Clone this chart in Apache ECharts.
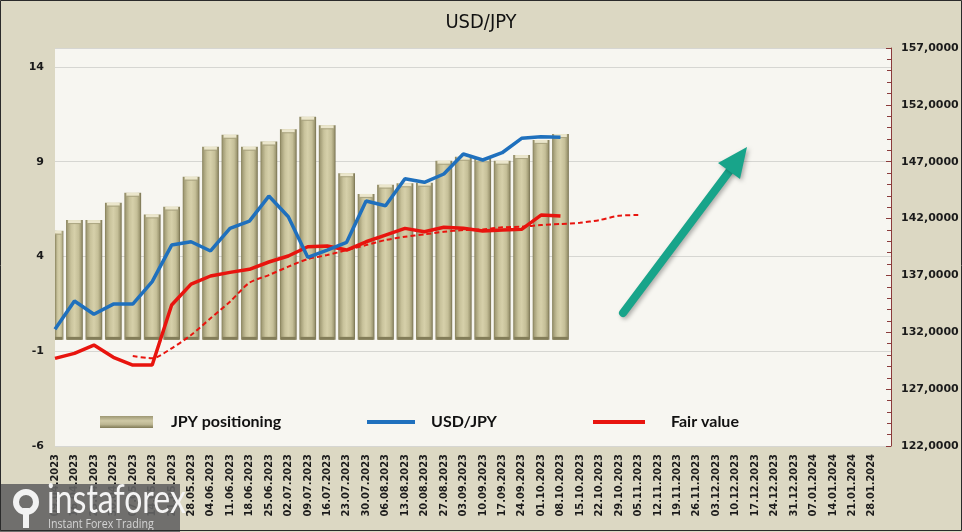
<!DOCTYPE html>
<html>
<head>
<meta charset="utf-8">
<script src="https://cdn.jsdelivr.net/npm/echarts@6/dist/echarts.min.js"></script>
<style>
html,body{margin:0;padding:0;background:#dcd8c3;}
#chart{width:962px;height:532px;}
</style>
</head>
<body>
<div id="chart"></div>
<script>
// ---- data ----
const categories = ['09.04.2023','16.04.2023','23.04.2023','30.04.2023','07.05.2023','14.05.2023','21.05.2023','28.05.2023',
  '04.06.2023','11.06.2023','18.06.2023','25.06.2023','02.07.2023','09.07.2023','16.07.2023','23.07.2023','30.07.2023',
  '06.08.2023','13.08.2023','20.08.2023','27.08.2023','03.09.2023','10.09.2023','17.09.2023','24.09.2023','01.10.2023',
  '08.10.2023','15.10.2023','22.10.2023','29.10.2023','05.11.2023','12.11.2023','19.11.2023','26.11.2023','03.12.2023',
  '10.12.2023','17.12.2023','24.12.2023','31.12.2023','07.01.2024','14.01.2024','21.01.2024','28.01.2024',''];
const jpyPositioning = [5.36,5.92,5.92,6.84,7.36,6.22,6.63,8.21,9.79,10.42,9.79,10.06,10.71,11.37,10.92,8.39,7.30,7.79,7.86,7.89,9.05,9.26,9.18,9.05,9.35,10.15,10.46];
const usdJpy = [132.26,134.75,133.58,134.48,134.48,136.45,139.67,139.96,139.15,141.14,141.78,143.98,142.16,138.59,139.23,139.91,143.54,143.13,145.50,145.19,145.92,147.68,147.15,147.79,149.06,149.20,149.15];
const fairValue = [129.71,130.15,130.88,129.80,129.12,129.12,134.40,136.24,136.95,137.27,137.54,138.18,138.71,139.52,139.59,139.23,139.96,140.55,141.14,140.84,141.23,141.14,140.91,140.99,141.05,142.31,142.22];
const fairValueTrend = [null,null,null,null,129.91,129.71,130.59,131.76,133.23,134.69,136.36,137.03,137.77,138.44,138.79,139.23,139.67,140.11,140.40,140.61,140.84,140.99,141.05,141.23,141.28,141.43,141.52,141.63,141.87,142.25,142.31];
const leftTicks = {min:-6, max:15, interval:5};
const rightTicks = {min:122, max:157, interval:5};
const BAR_BASE = -0.4;

const barGrad = new echarts.graphic.LinearGradient(0,0,1,0,[
  {offset:0,color:'#837d57'},{offset:0.1,color:'#a6a07a'},{offset:0.3,color:'#c9c39c'},
  {offset:0.5,color:'#d6d0aa'},{offset:0.75,color:'#c5bf98'},{offset:0.9,color:'#a29c76'},{offset:1,color:'#746e4d'}]);
const legendGrad = new echarts.graphic.LinearGradient(0,0,0,1,[
  {offset:0,color:'#9d9773'},{offset:0.4,color:'#cfc9a6'},{offset:0.7,color:'#bcb692'},{offset:1,color:'#7f7955'}]);

const chart = echarts.init(document.getElementById('chart'));
const axisFont = {fontFamily:'DejaVu Sans', fontWeight:'bold', fontSize:11, color:'#1a1a1a'};
const legendFont = {fontFamily:'Lato', fontWeight:'bold', fontSize:16, color:'#111', lineHeight:20};

function renderBar(params, api){
  const xi = api.value(0), v = api.value(1);
  const top = api.coord([xi, v]);
  const bot = api.coord([xi, BAR_BASE]);
  const w = api.size([1,0])[0]*0.86;
  const cs = params.coordSys;
  const clipR = {x:cs.x, y:cs.y, width:cs.width, height:cs.height};
  const x0 = top[0]-w/2;
  const h = bot[1]-top[1];
  const parts = [];
  const mk = (shape, style) => {
    const r = echarts.graphic.clipRectByRect(shape, clipR);
    if (r) parts.push({type:'rect', shape:r, style:style});
  };
  mk({x:x0, y:top[1], width:w, height:h}, {fill:barGrad});
  mk({x:x0+2, y:top[1], width:w-4, height:3}, {fill:'#ebe6cc'});
  mk({x:x0+2, y:top[1]+3, width:w-4, height:1}, {fill:'#aaa480'});
  mk({x:x0+1, y:bot[1]-3, width:w-2, height:3}, {fill:'#837d59'});
  return {type:'group', children:parts};
}

const option = {
  backgroundColor:'#dcd8c3',
  animation:false,
  title:{text:'USD/JPY', left:'center', top:8,
    textStyle:{fontFamily:'DejaVu Sans Condensed', fontWeight:'normal', fontSize:20, color:'#111'}},
  grid:{left:55, right:71, top:48, bottom:86, show:true, backgroundColor:'#f7f6f1', borderWidth:0},
  legend:[
    {left:95, top:407, itemWidth:53, itemHeight:12, icon:'rect', selectedMode:false,
      data:[{name:'JPY positioning', itemStyle:{color:legendGrad}}],
      textStyle:Object.assign({padding:[0,0,0,13]}, legendFont)},
    {left:362, top:407, itemWidth:48, itemHeight:4, icon:'rect', selectedMode:false,
      data:[{name:'USD/JPY', itemStyle:{color:'#1f70bd'}}],
      textStyle:Object.assign({padding:[0,0,0,11]}, legendFont)},
    {left:588, top:407, itemWidth:52, itemHeight:4, icon:'rect', selectedMode:false,
      data:[{name:'Fair value', itemStyle:{color:'#e8140e'}}],
      textStyle:Object.assign({padding:[0,0,0,21]}, legendFont)}
  ],
  xAxis:{type:'category', data:categories, boundaryGap:false,
    axisLine:{show:false}, axisTick:{show:false},
    axisLabel:{interval:0, rotate:90, margin:8, fontFamily:"'Liberation Sans Narrow','DejaVu Sans Condensed',sans-serif",
      fontWeight:'bold', fontSize:11, color:'#1a1a1a'}},
  yAxis:[
    {type:'value', min:leftTicks.min, max:leftTicks.max, interval:leftTicks.interval,
      axisLine:{show:false}, axisTick:{show:false},
      splitLine:{lineStyle:{color:'#d6d6d2', width:1}},
      axisLabel:Object.assign({margin:11, formatter:v => (v===leftTicks.max ? '' : String(v))}, axisFont)},
    {type:'value', position:'right', min:rightTicks.min, max:rightTicks.max, interval:rightTicks.interval,
      axisLine:{show:true, lineStyle:{color:'#8b3b3b', width:1}},
      axisTick:{show:true, inside:true, length:5, lineStyle:{color:'#8b3b3b'}},
      minorTick:{show:true, splitNumber:5, length:4, lineStyle:{color:'#8b3b3b'}},
      splitLine:{show:false},
      axisLabel:Object.assign({margin:10, formatter:v => v.toFixed(4).replace('.', ',')}, axisFont)}
  ],
  series:[
    {name:'JPY positioning', type:'custom', yAxisIndex:0, renderItem:renderBar, clip:true,
      itemStyle:{color:'#b3ad89'},
      encode:{x:0, y:1},
      data:jpyPositioning.map((v,i)=>[i,v])},
    {name:'Fair value trend', type:'line', yAxisIndex:1, data:fairValueTrend, symbol:'none', smooth:0.25,
      lineStyle:{color:'#e8140e', width:2, type:[5,3]}, z:3},
    {name:'Fair value', type:'line', yAxisIndex:1, data:fairValue, symbol:'none',
      lineStyle:{color:'#e8140e', width:3.5}, z:4},
    {name:'USD/JPY', type:'line', yAxisIndex:1, data:usdJpy, symbol:'none',
      lineStyle:{color:'#1f70bd', width:3.5}, z:5}
  ],
  graphic:[
    {type:'line', z:100, shape:{x1:623, y1:313, x2:731, y2:169},
      style:{stroke:'#18a48a', lineWidth:8, lineCap:'round', shadowBlur:4, shadowColor:'rgba(0,0,0,0.3)', shadowOffsetX:2, shadowOffsetY:2}},
    {type:'polygon', z:100, shape:{points:[[747,147],[718,163],[740,179]]},
      style:{fill:'#18a48a', shadowBlur:4, shadowColor:'rgba(0,0,0,0.3)', shadowOffsetX:2, shadowOffsetY:2}},
    {type:'rect', z:200, shape:{x:0, y:484, width:180, height:48}, style:{fill:'rgba(100,100,100,0.9)'}},
    {type:'circle', z:201, shape:{cx:26, cy:502, r:10}, style:{fill:'none', stroke:'#f2f2f2', lineWidth:6}},
    {type:'rect', z:201, shape:{x:23, y:508, width:6, height:20}, style:{fill:'#f2f2f2'}},
    {type:'text', z:201, x:47, y:520, scaleX:0.8, style:{text:'instaforex', x:0, y:0, fill:'#f4f4f4', font:'normal 40px Lato', verticalAlign:'bottom'}},
    {type:'text', z:201, x:48, y:524, scaleX:0.82, style:{text:'Instant Forex Trading', x:0, y:0, fill:'#d4d4d4', font:'normal 13px "Open Sans"', verticalAlign:'middle'}},
    {type:'rect', z:202, shape:{x:0.5, y:0.5, width:961, height:530}, style:{fill:'none', stroke:'#2a2a2a', lineWidth:1}}
  ]
};
chart.setOption(option);
</script>
</body>
</html>
